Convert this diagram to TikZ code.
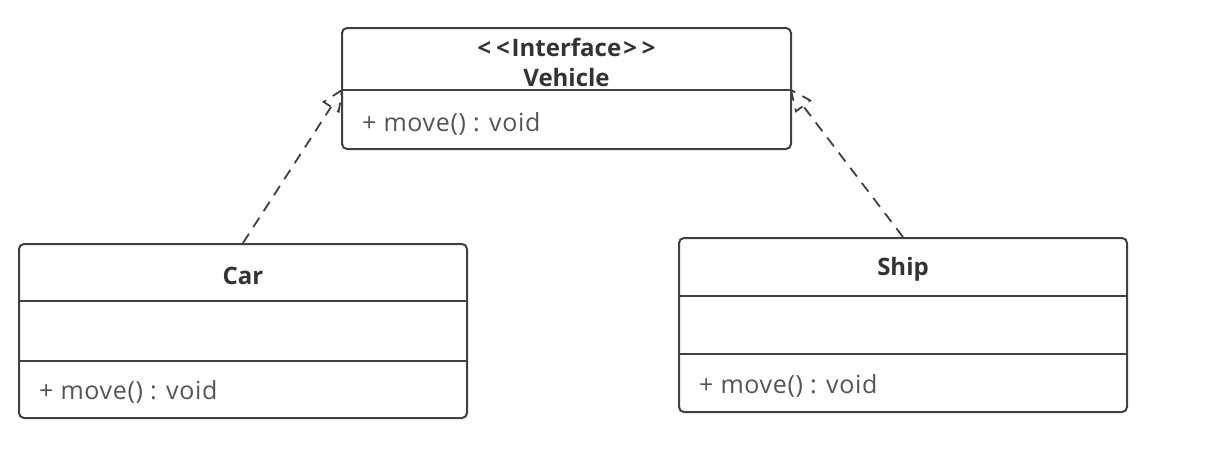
\documentclass[tikz,border=0pt]{standalone}
\usepackage{fontspec}
\setmainfont{Open Sans}
\usetikzlibrary{calc}
\definecolor{edge}{HTML}{404040}
\definecolor{titletext}{HTML}{333333}
\definecolor{membertext}{HTML}{555555}
\newcommand{\chevl}{{<}\kern5pt{<}\kern2pt}
\newcommand{\chevr}{\kern2pt{>}\kern5pt{>}}
\tikzset{
  classbox/.style={draw=edge, line width=2pt, rounded corners=5pt, fill=white, inner sep=0pt},
  sepline/.style={draw=edge, line width=2pt},
  titlelbl/.style={font=\fontsize{24}{28}\selectfont\bfseries, text=titletext, inner sep=0pt},
  memberlbl/.style={font=\fontsize{25}{28}\selectfont\addfontfeature{LetterSpace=2.5}, text=membertext, inner sep=0pt, anchor=west},
  realize/.style={draw=edge, line width=1.8pt, dash pattern=on 11pt off 8pt},
}
\begin{document}
\begin{tikzpicture}[x=1pt,y=-1pt]
\path[use as bounding box] (0,0) rectangle (1222,450);
% Vehicle
\node[classbox, minimum width=449pt, minimum height=121pt] (veh) at (566.5,88.5) {};
\coordinate (vehL) at (342,90);
\coordinate (vehR) at (791,90);
\draw[sepline] (vehL) -- (vehR);
\node[titlelbl] (vehst) at (566.5,47) {\chevl Interface\chevr};
\node[titlelbl] (vehname) at (566.5,77) {Vehicle};
\node[memberlbl] (vehm) at (362,124) {+ move() : void};
% Car
\node[classbox, minimum width=448pt, minimum height=174pt] (car) at (243,331) {};
\draw[sepline] (19,301) -- (467,301);
\draw[sepline] (19,361) -- (467,361);
\node[titlelbl] (carname) at (243,276) {Car};
\node[memberlbl] (carm) at (39,392) {+ move() : void};
% Ship
\node[classbox, minimum width=448pt, minimum height=174pt] (ship) at (903,325) {};
\draw[sepline] (679,296) -- (1127,296);
\draw[sepline] (679,354) -- (1127,354);
\node[titlelbl] (shipname) at (903,269) {Ship};
\node[memberlbl] (shipm) at (699,386) {+ move() : void};
% realizations
\coordinate (lb) at ($(vehL)!20pt!(car.north)$);
\coordinate (rb) at ($(vehR)!20pt!(ship.north)$);
\draw[realize] (car.north) -- (lb);
\draw[realize] (vehL) -- ($(lb)!9pt!90:(vehL)$) -- ($(lb)!9pt!-90:(vehL)$) -- cycle;
\draw[realize] (ship.north) -- (rb);
\draw[realize] (vehR) -- ($(rb)!9pt!90:(vehR)$) -- ($(rb)!9pt!-90:(vehR)$) -- cycle;
\end{tikzpicture}
\end{document}
